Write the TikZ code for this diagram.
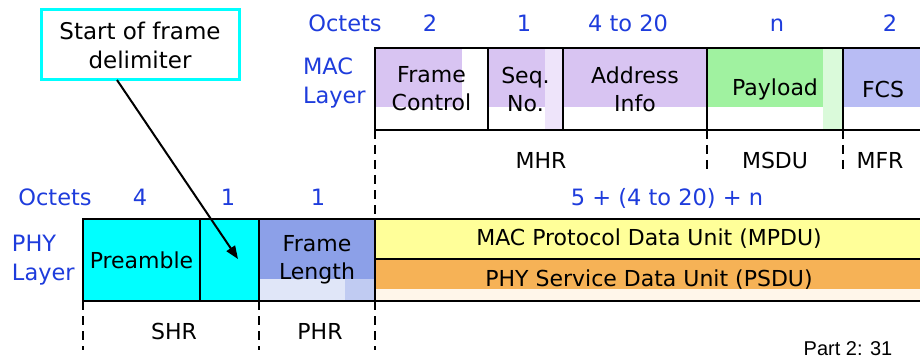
\documentclass[tikz,border=0pt]{standalone}
\usepackage{fontspec}
\setmainfont{DejaVu Sans}
\newfontfamily\pagenofont{Liberation Sans}
\usetikzlibrary{calc,arrows.meta}

\definecolor{lblblue}{RGB}{30,60,220}
\definecolor{lav}{RGB}{216,196,242}
\definecolor{lavlight}{RGB}{238,228,250}
\definecolor{grn}{RGB}{160,242,160}
\definecolor{grnlight}{RGB}{218,250,218}
\definecolor{fcsblue}{RGB}{184,188,244}
\definecolor{flblue}{RGB}{140,160,232}
\definecolor{fllight}{RGB}{224,230,248}
\definecolor{mpduyel}{RGB}{255,255,153}
\definecolor{psduorg}{RGB}{246,178,86}
\definecolor{psdulight}{RGB}{255,246,234}
\definecolor{sfdcyan}{RGB}{0,255,255}

\newcommand\fieldfont{\fontsize{22}{28}\selectfont}
\newcommand\tagfont{\fontsize{22.5}{29}\selectfont}

\begin{document}
\begin{tikzpicture}[x=1pt,y=-1pt,
  every node/.style={inner sep=0pt, outer sep=0pt},
  field/.style={draw=black, line width=2.5pt, align=center, font=\fieldfont,
                minimum height=82pt},
  band/.style={draw=black, line width=2.5pt, font=\fieldfont},
  tag/.style={text=lblblue, font=\tagfont, align=left},
  count/.style={text=lblblue, font=\tagfont, anchor=base},
  part/.style={font=\fieldfont, anchor=base},
  divline/.style={line width=2.5pt, dash pattern=on 9pt off 6pt},
  callout/.style={draw=sfdcyan, line width=3pt, fill=white, align=center,
                  font=\fontsize{23}{29}\selectfont},
  pointer/.style={line width=2pt, -{Triangle[length=13pt,width=10pt]}}]

\useasboundingbox (0,0) rectangle (920,358);

% ---- shaded field backgrounds ----
% MAC header fields
\fill[lav]      (375,48) rectangle (462,107);
\fill[lav]      (488,48) rectangle (545,107);
\fill[lavlight] (545,48) rectangle (563,130);
\fill[lav]      (563,48) rectangle (707,107);
% payload and FCS
\fill[grn]      (707,48) rectangle (823,107);
\fill[grnlight] (823,48) rectangle (843,130);
\fill[fcsblue]  (843,48) rectangle (925,107);
% PHY fields
\fill[sfdcyan]  (83,219) rectangle (259,301);
\fill[flblue]   (259,219) rectangle (375,279);
\fill[fllight]  (259,279) rectangle (375,301);
\fill[flblue!55](345,279) rectangle (375,301);
\fill[mpduyel]  (375,219) rectangle (925,259);
\fill[psduorg]  (375,259) rectangle (925,289);
\fill[psdulight](375,289) rectangle (925,301);

% ---- MAC frame ----
\node[field, minimum width=113pt] (fc)   at (431.5,89) {Frame\\Control};
\node[field, minimum width=75pt]  (seq)  at (525.5,89) {Seq.\\No.};
\node[field, minimum width=144pt] (addr) at (635,89)   {Address\\Info};
\node[field, minimum width=136pt] (pay)  at (775,89)   {Payload};
\node[field, minimum width=80pt]  (fcs)  at (883,89)   {FCS};

% ---- PHY frame ----
\node[field, minimum width=117pt] (pre)  at (141.5,260) {Preamble};
\node[field, minimum width=59pt]  (sfd)  at (229.5,260) {};
\node[field, minimum width=116pt] (flen) at (317,260)   {Frame\\Length};
\node[band, minimum width=548pt, minimum height=40pt] (mpdu) at (649,239)
     {MAC Protocol Data Unit (MPDU)};
\node[band, minimum width=548pt, minimum height=42pt] (psdu) at (649,280)
     {PHY Service Data Unit (PSDU)};

% ---- octet counts ----
\node[count] (macoct) at (345,32) {Octets};
\node[count] at (430,32) {2};
\node[count] at (524,32) {1};
\node[count] at (628,32) {4 to 20};
\node[count] at (777,32) {n};
\node[count] at (890,32) {2};

\node[count] (phyoct) at (55,205) {Octets};
\node[count] at (140,205) {4};
\node[count] at (228,205) {1};
\node[count] at (318,205) {1};
\node[count] at (667,205) {5 + (4 to 20) + n};

% ---- layer names ----
\node[tag, anchor=west] (maclayer) at (303,83)  {MAC\\Layer};
\node[tag, anchor=west] (phylayer) at (12,260)  {PHY\\Layer};

% ---- header / footer spans ----
\coordinate (msduend) at (707,172);
\coordinate (mfrend)  at (843,172);
\coordinate (shrend)  at (83,350);
\coordinate (phrend)  at (259,350);
\coordinate (psduend) at (375,350);

\draw[divline] (fc.south west)   -- (mpdu.north west);
\draw[divline] (pay.south west)  -- (msduend);
\draw[divline] (fcs.south west)  -- (mfrend);
\draw[divline] (pre.south west)  -- (shrend);
\draw[divline] (flen.south west) -- (phrend);
\draw[divline] (flen.south east) -- (psduend);

\node[part] (mhr)  at (541,168) {MHR};
\node[part] (msdu) at (775,168) {MSDU};
\node[part] (mfr)  at (880,168) {MFR};
\node[part] (shr)  at (174,339) {SHR};
\node[part] (phr)  at (320,339) {PHR};

% ---- callout for the start-of-frame delimiter ----
\node[callout, minimum width=198pt, minimum height=70pt] (sfdnote) at (140,45)
     {Start of frame\\delimiter};
\coordinate (sfdtip) at (238,259);
\draw[pointer] ($(sfdnote.south)+(-23,0)$) -- (sfdtip);

% ---- page number ----
\node[font=\pagenofont\fontsize{20}{24}\selectfont, anchor=base] (pageno)
     at (848,355) {Part 2: 31};

\end{tikzpicture}
\end{document}
